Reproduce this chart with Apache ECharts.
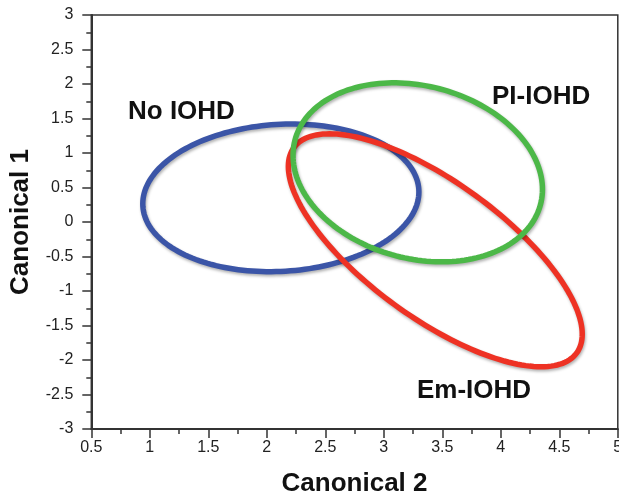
<!DOCTYPE html>
<html>
<head>
<meta charset="utf-8">
<script src="https://cdn.jsdelivr.net/npm/echarts@6/dist/echarts.min.js"></script>
<style>html,body{margin:0;padding:0;background:#fff}#c{width:619px;height:496px}</style>
</head>
<body>
<div id="c"></div>
<script>
// Groups and ellipse parameters (data units)
var groups = ['No IOHD', 'Em-IOHD', 'PI-IOHD'];
var centerX = [2.12, 3.44, 3.29];
var centerY = [0.35, -0.41, 0.72];
var radiusX = [1.18, 1.256, 1.066];   // horizontal half-extent
var radiusY = [1.07, 1.688, 1.297];   // vertical half-extent
var correlation = [0.08, -0.72, -0.19];
var colors = ['#3b55a7', '#ee3224', '#4cb848'];

var xTicks = { min: 0.5, max: 5, step: 0.5 };
var yTicks = { min: -3, max: 3, step: 0.5 };

var chart = echarts.init(document.getElementById('c'), null, { renderer: 'canvas' });

function makeSeries(i) {
  return {
    type: 'custom',
    name: groups[i],
    coordinateSystem: 'cartesian2d',
    data: [[centerX[i], centerY[i]]],
    renderItem: function (params, api) {
      var cx = api.value(0), cy = api.value(1);
      var d = Math.acos(correlation[i]);
      var pts = [];
      var N = 180;
      for (var k = 0; k < N; k++) {
        var t = (k / N) * Math.PI * 2;
        pts.push(api.coord([cx + radiusX[i] * Math.cos(t), cy + radiusY[i] * Math.cos(t - d)]));
      }
      return {
        type: 'polygon',
        shape: { points: pts },
        style: {
          fill: 'none',
          stroke: colors[i],
          lineWidth: 5.5,
          shadowColor: 'rgba(0,0,0,0.3)',
          shadowBlur: 3,
          shadowOffsetX: 1,
          shadowOffsetY: 2
        }
      };
    },
    z: 2 + i
  };
}

var labelFont = 'bold 26px "Liberation Sans", Arial, sans-serif';
var tickFont = '"Liberation Sans", Arial, sans-serif';

chart.setOption({
  animation: false,
  backgroundColor: '#ffffff',
  grid: {
    left: 91.3, top: 15, right: 1.2, bottom: 67,
    containLabel: false, outerBoundsMode: 'none',
    show: true, borderColor: '#333', borderWidth: 1.5, backgroundColor: 'transparent'
  },
  xAxis: {
    type: 'value', min: xTicks.min, max: xTicks.max, interval: xTicks.step,
    name: 'Canonical 2', nameLocation: 'middle', nameGap: 42,
    nameTextStyle: { fontFamily: tickFont, fontWeight: 'bold', fontSize: 26, color: '#111' },
    axisLine: { show: true, onZero: false, lineStyle: { color: '#333', width: 2 } },
    axisTick: { show: true, inside: false, length: 9, lineStyle: { color: '#333', width: 1.5 } },
    minorTick: { show: true, splitNumber: 2, length: 5, lineStyle: { color: '#333', width: 1.5 } },
    splitLine: { show: false },
    axisLabel: { fontFamily: tickFont, fontSize: 16, color: '#222', margin: 11,
      showMinLabel: true, showMaxLabel: true, hideOverlap: false }
  },
  yAxis: {
    type: 'value', min: yTicks.min, max: yTicks.max, interval: yTicks.step,
    name: 'Canonical 1', nameLocation: 'middle', nameGap: 57, nameRotate: 90,
    nameTextStyle: { fontFamily: tickFont, fontWeight: 'bold', fontSize: 26, color: '#111' },
    axisLine: { show: true, onZero: false, lineStyle: { color: '#333', width: 2 } },
    axisTick: { show: true, inside: false, length: 9, lineStyle: { color: '#333', width: 1.5 } },
    minorTick: { show: true, splitNumber: 2, length: 5, lineStyle: { color: '#333', width: 1.5 } },
    splitLine: { show: false },
    axisLabel: { fontFamily: tickFont, fontSize: 16, color: '#222', margin: 18 }
  },
  graphic: [
    { type: 'text', left: 128, top: 99, style: { text: 'No IOHD', font: labelFont, fill: '#111' }, z: 10 },
    { type: 'text', left: 492, top: 84, style: { text: 'PI-IOHD', font: labelFont, fill: '#111' }, z: 10 },
    { type: 'text', left: 417, top: 378, style: { text: 'Em-IOHD', font: labelFont, fill: '#111' }, z: 10 }
  ],
  series: [makeSeries(0), makeSeries(1), makeSeries(2)]
});
</script>
</body>
</html>
